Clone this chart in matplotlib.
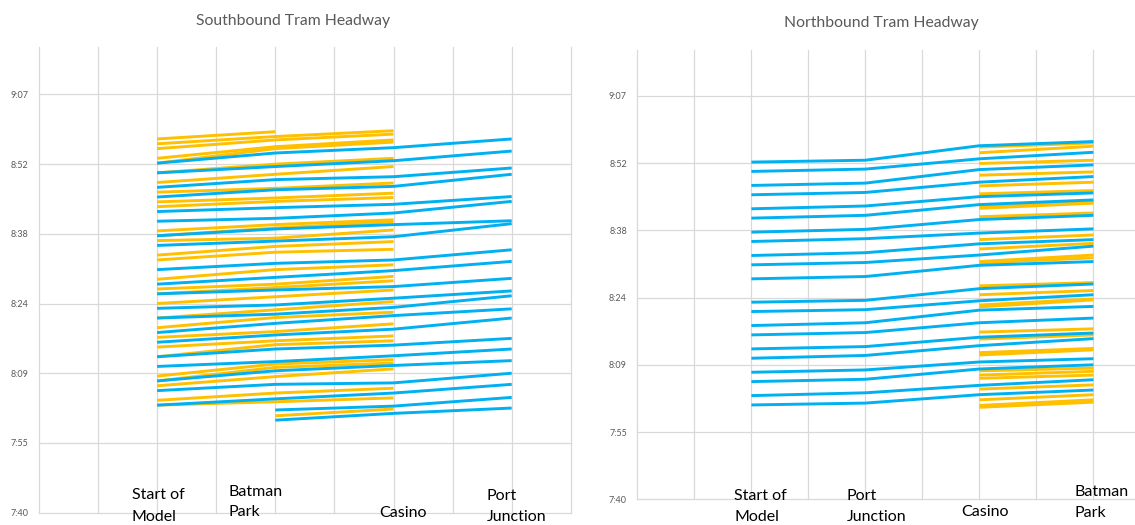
import numpy as np
import matplotlib
matplotlib.use("Agg")
import matplotlib.pyplot as plt
import matplotlib.transforms as mtransforms
from matplotlib.ticker import FixedLocator, FuncFormatter

nan = np.nan

# ---------------- data (times in minutes after midnight) ----------------
# Southbound: Start of Model -> Batman Park -> Casino -> Port Junction
sb_stations = ["Start of\nModel", "Batman\nPark", "Casino", "Port\nJunction"]

sb_blue_start = [533, 531, 528, 526, 523, 521, 518, 516, 511, 508, 506, 503,
                 501, 498, 496, 493, 491, 488, 486, 483, nan, nan]
sb_blue_batman = [535.1, 532.3, 529.6, 527.5, 523.8, 521.6, 519.4, 516.9, 512.3,
                  509.4, 506.8, 503.7, 501.8, 499.9, 497.5, 494.6, 492.0, 490.1,
                  487.3, 484.3, 482.0, 479.9]
sb_blue_casino = [536.2, 533.5, 530.2, 528.2, 524.5, 522.7, 520.3, 517.8, 513.0,
                  510.8, 507.5, 505.1, 503.2, 501.5, 498.7, 495.4, 493.2, 491.2,
                  487.6, 485.5, 482.8, 481.3]
sb_blue_port = [538.0, 535.5, 532.0, 530.7, 526.1, 525.1, 521.1, 520.5, 515.1,
                512.7, 509.2, 506.6, 505.6, 502.9, 501.0, 496.8, 494.6, 492.2,
                489.6, 487.3, 484.6, 482.4]

sb_orange_start = [538, 537, 536, 534, 533, 531, 529, 527, 525, 524, 519, 518,
                   517, 514, 513, 509, 507, 506, 504, 501, 499, 497, 495, 493,
                   489, 488, 487, 484, 483, nan]
sb_orange_batman = [539.5, 538.5, 537.8, 536.4, 536.0, 532.8, 530.7, 527.8, 525.8,
                    525.1, 520.3, 519.6, 517.5, 515.8, 514.6, 511.0, 508.0, 507.3,
                    505.4, 502.7, 501.1, 498.2, 496.3, 495.5, 491.5, 490.8, 488.9,
                    485.5, 483.7, 480.8]
sb_orange_casino = [nan, 539.7, 539.0, 537.8, 537.35, 534.0, 532.3, 528.9, 526.8,
                    525.9, 521.3, 520.9, 519.2, 516.8, 515.2, 512.0, 509.6, 508.7,
                    506.8, 504.4, 502.2, 499.8, 497.3, 496.3, 492.4, 491.7, 490.5,
                    486.5, 484.5, 482.2]

# Northbound: Start of Model -> Port Junction -> Casino -> Batman Park
nb_stations = ["Start of\nModel", "Port\nJunction", "Casino", "Batman\nPark"]

nb_blue_start = [533, 531, 528, 526, 523, 521, 518, 516, 513, 511, 508, 503,
                 501, 498, 496, 493, 491, 488, 486, 483, 481]
nb_blue_port = [533.4, 531.5, 528.5, 526.5, 523.6, 521.6, 518.6, 516.6, 513.6,
                511.5, 508.5, 503.4, 501.4, 498.6, 496.5, 493.5, 491.6, 488.5,
                486.5, 483.6, 481.4]
nb_blue_casino = [536.5, 533.7, 531.4, 528.7, 525.6, 523.9, 520.7, 517.8, 515.5,
                  513.1, 510.9, 505.9, 503.3, 501.3, 498.6, 495.5, 493.7, 490.2,
                  488.7, 485.2, 483.2]
nb_blue_batman = [537.4, 535.1, 532.4, 529.9, 526.4, 524.9, 521.6, 518.7, 516.4,
                  515.0, 511.7, 506.9, 504.6, 502.1, 499.6, 496.4, 495.2, 490.9,
                  489.6, 486.4, 484.2]

nb_orange_casino = [536.2, 535.0, 532.7, 530.2, 527.9, 526.2, 523.5, 523.1, 521.3,
                    516.4, 514.4, 511.7, 511.4, 506.5, 504.6, 502.4, 502.0, 496.6,
                    495.1, 492.2, 491.7, 488.3, 487.4, 486.7, 484.4, 482.1, 480.9,
                    480.5]
nb_orange_batman = [537.1, 536.4, 533.4, 530.9, 528.7, 526.9, 524.6, 524.2, 522.1,
                    517.4, 515.6, 513.1, 512.5, 507.2, 505.5, 503.7, 503.5, 497.3,
                    496.0, 493.1, 492.8, 488.9, 488.2, 487.4, 485.3, 483.2, 482.1,
                    481.6]

# axis: Excel-style day fractions 0.32 .. 0.38 step 0.01, in minutes
y_ticks = [0.32 * 1440 + 0.01 * 1440 * k for k in range(7)]
y_top = 557.0
station_x = [2, 4, 6, 8]

BLUE = "#00B0F0"
ORANGE = "#FFC000"
GRID = "#D9D9D9"
TXT = "#595959"
FONT = "Lato"

W, H = 1135, 525
fig = plt.figure(figsize=(W / 100, H / 100), dpi=100)


def hm(v, _pos=None):
    m = int(v + 1e-6)
    return f"{m // 60}:{m % 60:02d}"


def make_axes(x0, x1, ytop, ybot):
    ax = fig.add_axes([x0 / W, 1 - ybot / H, (x1 - x0) / W, (ybot - ytop) / H])
    ax.set_xlim(0, 9)
    ax.set_ylim(y_ticks[0], y_top)
    for s in ax.spines.values():
        s.set_visible(False)
    for xv in range(10):
        ax.axvline(xv, color=GRID, lw=0.9, zorder=0, clip_on=False)
    for yv in y_ticks:
        ax.axhline(yv, color=GRID, lw=0.9, zorder=0, clip_on=False)
    ax.yaxis.set_major_locator(FixedLocator(y_ticks))
    ax.yaxis.set_major_formatter(FuncFormatter(hm))
    ax.set_xticks([])
    ax.tick_params(axis="y", length=0, pad=7.5, labelsize=6.5, labelcolor=TXT)
    for lab in ax.get_yticklabels():
        lab.set_fontfamily(FONT)
    return ax


def draw_lines(ax, columns, xs, color, z):
    arr = np.array(columns, dtype=float).T
    for row in arr:
        ax.plot(xs, row, color=color, lw=2.1, solid_capstyle="butt",
                solid_joinstyle="round", zorder=z, clip_on=False)


def station_labels(ax, names, x_left, baselines):
    tr = mtransforms.blended_transform_factory(ax.transData, fig.transFigure)
    for name, xl, bl in zip(names, x_left, baselines):
        for line, ypx in zip(name.split("\n"), bl):
            ax.text(xl, 1 - ypx / H, line, transform=tr, ha="left",
                    va="baseline", fontsize=11.5, family=FONT, color="black",
                    clip_on=False)


# ---- Southbound panel ----
ax1 = make_axes(38.9, 570.8, 47.0, 512.6)
draw_lines(ax1, [sb_orange_start, sb_orange_batman, sb_orange_casino],
           station_x[:3], ORANGE, 2)
draw_lines(ax1, [sb_blue_start, sb_blue_batman, sb_blue_casino, sb_blue_port],
           station_x, BLUE, 3)
station_labels(ax1, sb_stations, [1.575, 3.2, 5.755, 7.58],
               [(499, 521), (496, 516), (517,), (500, 521)])
fig.text(292.7 / W, 1 - 21 / H, "Southbound Tram Headway", ha="center",
         va="center", fontsize=11.3, family=FONT, color=TXT)

# ---- Northbound panel ----
ax2 = make_axes(637.4, 1150.4, 50.0, 499.3)
draw_lines(ax2, [nb_orange_casino, nb_orange_batman], station_x[2:], ORANGE, 2)
draw_lines(ax2, [nb_blue_start, nb_blue_port, nb_blue_casino, nb_blue_batman],
           station_x, BLUE, 3)
station_labels(ax2, nb_stations, [1.695, 3.674, 5.677, 7.67],
               [(499.5, 521), (499.5, 521), (516,), (496.5, 517)])
fig.text(881 / W, 1 - 23.4 / H, "Northbound Tram Headway", ha="center",
         va="center", fontsize=11.3, family=FONT, color=TXT)

fig.savefig("out.png", dpi=100, facecolor="white")
